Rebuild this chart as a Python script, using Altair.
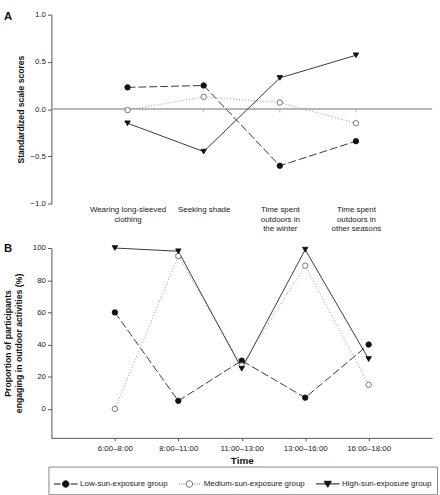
import altair as alt
import pandas as pd

FONT = "Liberation Sans"

# ---------------- data ----------------
items_a = ["Wearing long-sleeved\nclothing", "Seeking shade",
           "Time spent\noutdoors in\nthe winter", "Time spent\noutdoors in\nother seasons"]
low_a = [0.23, 0.25, -0.60, -0.34]
med_a = [-0.01, 0.13, 0.07, -0.15]
high_a = [-0.15, -0.45, 0.33, 0.57]
yticks_a = [-1.0, -0.5, 0.0, 0.5, 1.0]

times_b = ["6:00–8:00", "8:00–11:00", "11:00–13:00", "13:00–16:00", "16:00–18:00"]
low_b = [60, 5, 30, 7, 40]
med_b = [0, 95, 27, 89, 15]
high_b = [100, 98, 25, 99, 31]
yticks_b = [0, 20, 40, 60, 80, 100]

groups = ["Low-sun-exposure group", "Medium-sun-exposure group", "High-sun-exposure group"]

# ---------------- styles ----------------
line_colors = ["#3a3a3a", "#9a9a9a", "#3a3a3a"]
dashes = [[8, 3], [1, 2], None]
shapes = ["circle", "circle", "triangle-down"]
fills = ["#111111", "#ffffff", "#111111"]
strokes = ["#111111", "#666666", "#111111"]

legend_paths = [
    "M-1,0L-0.42,0M0.42,0L1,0M-0.27,0A0.27,0.27,0,1,1,0.27,0A0.27,0.27,0,1,1,-0.27,0Z",
    "M-0.9,0L-0.82,0M-0.7,0L-0.62,0M-0.5,0L-0.42,0M0.42,0L0.5,0M0.62,0L0.7,0M0.82,0L0.9,0"
    "M-0.27,0A0.27,0.27,0,1,1,0.27,0A0.27,0.27,0,1,1,-0.27,0Z",
    "M-1,0L1,0M-0.3,-0.22L0.3,-0.22L0,0.28Z",
]


def long_df(cat_name, cats, series):
    rows = []
    for g, vals in zip(groups, series):
        for c, v in zip(cats, vals):
            rows.append({cat_name: c, "value": v, "group": g})
    return pd.DataFrame(rows)


df_a = long_df("item", items_a, [low_a, med_a, high_a])
df_b = long_df("time", times_b, [low_b, med_b, high_b])


def series_layers(df, xenc, yenc):
    lines, points = [], []
    for i, g in enumerate(groups):
        d = df[df["group"] == g]
        lk = dict(color=line_colors[i], strokeWidth=1)
        if dashes[i] is not None:
            lk["strokeDash"] = dashes[i]
        lines.append(alt.Chart(d).mark_line(**lk).encode(x=xenc, y=yenc))
        points.append(
            alt.Chart(d).mark_point(shape=shapes[i], filled=True, fill=fills[i], stroke=strokes[i],
                                    strokeWidth=0.9, size=30, opacity=1).encode(x=xenc, y=yenc)
        )
    return lines + points


def letter(t, y):
    return alt.Chart(pd.DataFrame({"t": [t]})).mark_text(
        font=FONT, fontSize=11.5, fontWeight="bold", align="left", baseline="top", color="#111"
    ).encode(text="t:N", x=alt.value(-48), y=alt.value(y))


# ---------------- panel A ----------------
xA = alt.X("item:N", sort=items_a, scale=alt.Scale(type="point", padding=1),
           axis=alt.Axis(title=None, domain=False, ticks=False, labelAngle=0,
                         labelExpr="split(datum.label, '\\n')", labelFontSize=8,
                         labelLineHeight=9.7, labelPadding=2, labelBaseline="top"))
yA = alt.Y("value:Q", scale=alt.Scale(domain=[-1, 1], nice=False, zero=False),
           axis=alt.Axis(values=yticks_a, format=".1f", title="Standardized scale scores",
                         titleFontSize=8.7, titlePadding=4))

zero_df = pd.DataFrame({"item": items_a, "value": [0.0] * len(items_a)})
zero_rule = alt.Chart(zero_df).mark_rule(color="#a0a0a0", strokeWidth=1.5).encode(y="mean(value):Q")
zero_ticks = alt.Chart(zero_df).mark_tick(orient="vertical", size=3, thickness=1, color="#a0a0a0",
                                          yOffset=2).encode(x=xA, y="value:Q")

panel_a = alt.layer(zero_rule, zero_ticks, *series_layers(df_a, xA, yA), letter("A", -4)).properties(
    width=385, height=191)

# ---------------- panel B ----------------
xB = alt.X("time:N", sort=times_b, scale=alt.Scale(type="point", padding=1),
           axis=alt.Axis(title="Time", labelAngle=0, labelFontSize=8, tickSize=3, labelPadding=4,
                         titleFontSize=10, titlePadding=3))
yB = alt.Y("value:Q", scale=alt.Scale(domain=[-18, 100], nice=False, zero=False),
           axis=alt.Axis(values=yticks_b, title=["Proportion of participants",
                                                 "engaging in outdoor activities (%)"],
                         titleFontSize=8.8, titlePadding=9, titleLineHeight=11))

# In a concatenated chart the legend sits at the root, so legendX/Y are relative to panel A's origin
leg = alt.Legend(orient="none", legendX=-3, legendY=457, direction="horizontal", title=None,
                 labelFont=FONT, labelFontSize=8, labelColor="#222", symbolSize=576,
                 symbolStrokeWidth=1, symbolOpacity=1, strokeColor="#888", fillColor="#fff",
                 padding=5, columnPadding=8, labelOffset=2)
legend_layer = alt.Chart(pd.DataFrame({"group": groups})).mark_point(
    filled=True, opacity=0, strokeWidth=1).encode(
    shape=alt.Shape("group:N", sort=groups, scale=alt.Scale(domain=groups, range=legend_paths), legend=leg),
    fill=alt.Fill("group:N", sort=groups, scale=alt.Scale(domain=groups, range=fills), legend=leg),
    stroke=alt.Stroke("group:N", sort=groups, scale=alt.Scale(domain=groups, range=strokes), legend=leg),
)

panel_b = alt.layer(*series_layers(df_b, xB, yB), legend_layer, letter("B", -5)).properties(
    width=385, height=192)

chart = alt.vconcat(panel_a, panel_b, spacing=45, bounds="flush").properties(
    padding={"left": 3, "top": 8, "right": 2, "bottom": 2}
).configure_view(stroke=None).configure_axis(
    labelFont=FONT, titleFont=FONT, labelFontSize=8, labelColor="#222", titleColor="#111",
    domainColor="#555", tickColor="#555", tickSize=4, grid=False, titleFontWeight="bold"
)

chart.save("out.html", embed_options={"renderer": "svg", "actions": False})
